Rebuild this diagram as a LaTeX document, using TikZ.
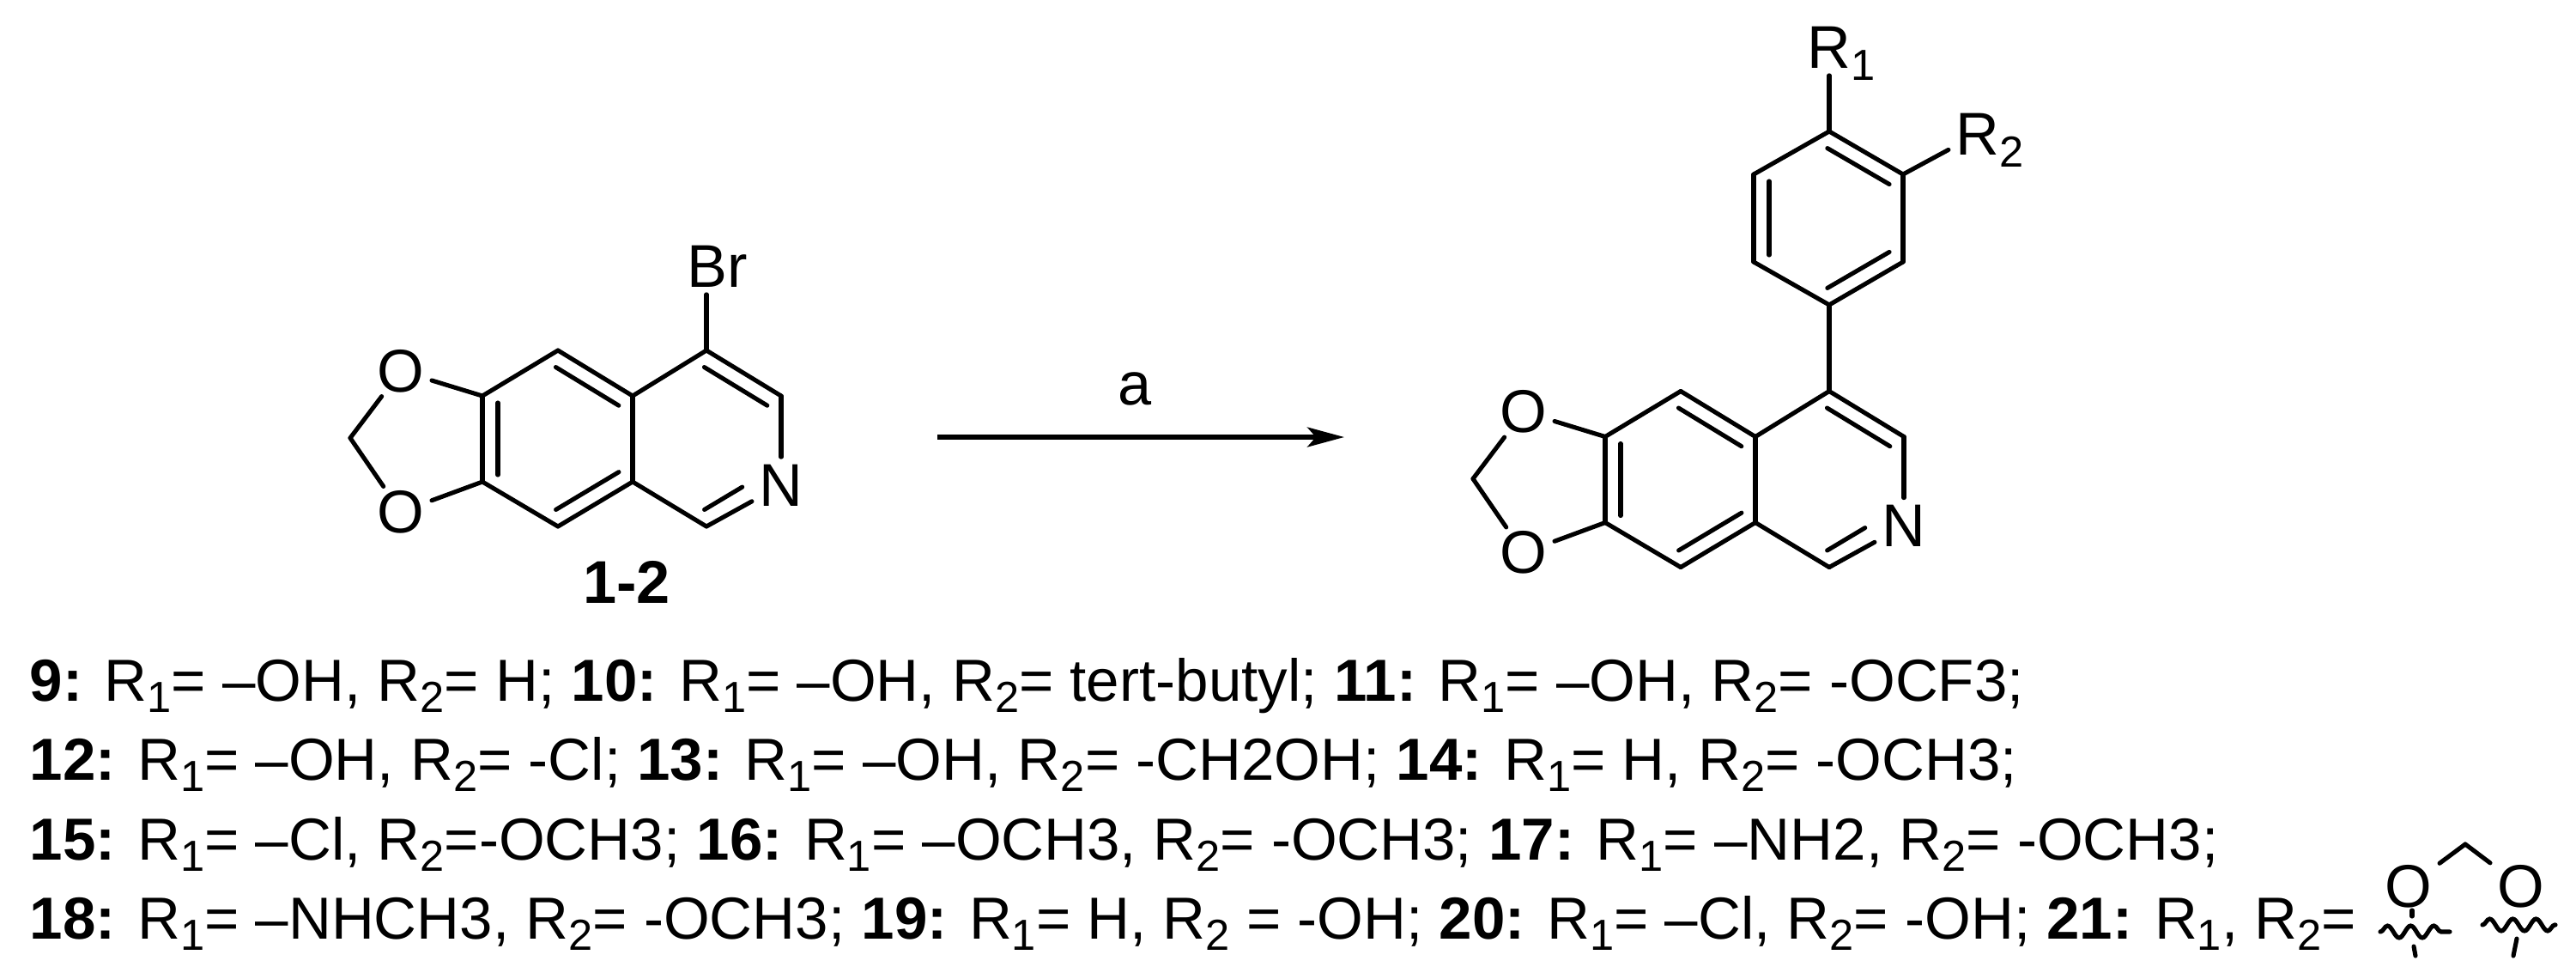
\documentclass[tikz,border=0pt]{standalone}
\usepackage{fontspec}
\setmainfont{Liberation Sans}
\usetikzlibrary{arrows.meta, calc, decorations.pathmorphing}
\newcommand{\rsub}[1]{\raisebox{-0.2em}[0pt][0pt]{\fontsize{14.4}{14.4}\selectfont #1}}
\newcommand{\innerbond}[3][]{\draw[bond, shorten <=0.08cm, shorten >=0.08cm, #1] ($(#2)!0.18cm!90:(#3)$)--($(#3)!0.18cm!-90:(#2)$);}
\tikzset{
	bond/.style={line width=1.45pt, line cap=round},
	atom/.style={inner sep=0.08cm, font=\fontsize{20}{20}\selectfont},
	oxy/.style={atom, inner ysep=0.04cm},
	textline/.style={anchor=base west, inner sep=0pt, font=\fontsize{19.66}{19.66}\selectfont},
	wavy/.style={line width=1.45pt, line cap=round, decorate, decoration={snake, segment length=0.27cm, amplitude=0.07cm}}
}
\begin{document}
\begin{tikzpicture}[x=1cm, y=-1cm]
		\useasboundingbox (0,0) rectangle (30.01,11.39);
		% isoquinoline core, left and right
		\foreach \m/\dx/\dy in {lft/0/0, rgt/13.08/0.475}{
			\begin{scope}[shift={(\dx,\dy)}]
				\coordinate (\m-c1) at (5.62,4.61);
				\coordinate (\m-c2) at (5.62,5.61);
				\coordinate (\m-c3) at (6.50,6.13);
				\coordinate (\m-c4) at (7.37,5.61);
				\coordinate (\m-c5) at (7.37,4.61);
				\coordinate (\m-c6) at (6.50,4.08);
				\coordinate (\m-c7) at (8.23,6.13);
				\coordinate (\m-c8) at (9.10,4.61);
				\coordinate (\m-c9) at (8.23,4.08);
				\coordinate (\m-ch) at (4.08,5.10);
				\coordinate (\m-npos) at (9.10,5.61);
				\node [oxy] (\m-o1) at (4.67,4.32) {O};
				\node [oxy] (\m-o2) at (4.67,5.96) {O};
				\node [atom] (\m-n) at (9.10,5.65) {N};
			\end{scope}
			\foreach \a/\b in {c1/c2, c2/c3, c3/c4, c4/c5, c1/c6, c6/c5, c5/c9, c9/c8, c4/c7}{
				\draw [bond] (\m-\a)--(\m-\b);
			}
			\draw [bond] (\m-c1)--(\m-o1);
			\draw [bond] (\m-c2)--(\m-o2);
			\draw [bond] (\m-ch)--(\m-o1);
			\draw [bond] (\m-ch)--(\m-o2);
			\draw [bond] (\m-c8)--(\m-n);
			\draw [bond] (\m-c7)--(\m-n);
			% inner lines of the double bonds
			\innerbond{\m-c1}{\m-c2}
			\innerbond{\m-c3}{\m-c4}
			\innerbond{\m-c5}{\m-c6}
			\innerbond{\m-c8}{\m-c9}
			\innerbond[shorten >=0.42cm]{\m-c7}{\m-npos}
		}
		% bromide and its label
		\node [atom] (br) at (8.36,3.10) {Br};
		\draw [bond] (lft-c9)--(lft-c9 |- br.south);
		\node [font=\fontsize{20}{20}\selectfont\bfseries, inner sep=0pt] (cpd) at (7.30,6.78) {1-2};
		% aryl ring
		\coordinate (ph1) at (20.43,2.03);
		\coordinate (ph2) at (20.43,3.05);
		\coordinate (ph3) at (21.31,3.55);
		\coordinate (ph4) at (22.17,3.05);
		\coordinate (ph5) at (22.17,2.03);
		\coordinate (ph6) at (21.31,1.53);
		\foreach \a/\b in {ph1/ph2, ph2/ph3, ph3/ph4, ph4/ph5, ph5/ph6, ph6/ph1}{
			\draw [bond] (\a)--(\b);
		}
		\innerbond{ph1}{ph2}
		\innerbond{ph3}{ph4}
		\innerbond{ph5}{ph6}
		\draw [bond] (ph3)--(rgt-c9);
		\node [atom] (r1) at (21.31,0.55) {R\rlap{\rsub{1}}};
		\node [atom] (r2) at (23.04,1.56) {R\rlap{\rsub{2}}};
		\draw [bond] (ph6)--(r1);
		\draw [bond] (ph5)--(r2);
		% reaction arrow
		\coordinate (arrstart) at (10.92,5.09);
		\coordinate (arrend) at (15.66,5.09);
		\draw [line width=1.45pt, -{Stealth[length=0.43cm, width=0.23cm, inset=0.1cm]}] (arrstart)--(arrend);
		\node [atom] (rgnt) at (13.22,4.53) {a};
		% compound list
		\node [textline] (line1) at (0.34,8.16) {\textbf{9:} R\rsub{1}= \textendash OH, R\rsub{2}= H; \textbf{10:} R\rsub{1}= \textendash OH, R\rsub{2}= tert-butyl; \textbf{11:} R\rsub{1}= \textendash OH, R\rsub{2}= -OCF3;};
		\node [textline] (line2) at (0.34,9.08) {\textbf{12:} R\rsub{1}= \textendash OH, R\rsub{2}= -Cl; \textbf{13:} R\rsub{1}= \textendash OH, R\rsub{2}= -CH2OH; \textbf{14:} R\rsub{1}= H, R\rsub{2}= -OCH3;};
		\node [textline] (line3) at (0.34,10.01) {\textbf{15:} R\rsub{1}= \textendash Cl, R\rsub{2}=-OCH3; \textbf{16:} R\rsub{1}= \textendash OCH3, R\rsub{2}= -OCH3; \textbf{17:} R\rsub{1}= \textendash NH2, R\rsub{2}= -OCH3;};
		\node [textline] (line4) at (0.34,10.93) {\textbf{18:} R\rsub{1}= \textendash NHCH3, R\rsub{2}= -OCH3; \textbf{19:} R\rsub{1}= H, R\rsub{2} = -OH; \textbf{20:} R\rsub{1}= \textendash Cl, R\rsub{2}= -OH; \textbf{21:} R\rsub{1}, R\rsub{2}=};
		% methylenedioxy fragment on the last line
		\node [oxy] (fo1) at (28.06,10.32) {O};
		\node [oxy] (fo2) at (29.37,10.32) {O};
		\coordinate (fch) at (28.72,9.83);
		\draw [bond] (fch)--(fo1);
		\draw [bond] (fch)--(fo2);
		\coordinate (fw1a) at (27.73,10.85);
		\coordinate (fw1b) at (28.54,10.85);
		\coordinate (fw2a) at (28.92,10.77);
		\coordinate (fw2b) at (29.77,10.77);
		\draw [wavy] (fw1a)--(fw1b);
		\draw [wavy] (fw2a)--(fw2b);
		\coordinate (fs1) at (28.10,10.60);
		\coordinate (fs2) at (28.10,10.67);
		\coordinate (fs3) at (28.12,11.02);
		\coordinate (fs4) at (28.14,11.13);
		\coordinate (fs5) at (29.32,10.93);
		\coordinate (fs6) at (29.28,11.13);
		\draw [bond] (fs1)--(fs2);
		\draw [bond] (fs3)--(fs4);
		\draw [bond] (fs5)--(fs6);
	\end{tikzpicture}
\end{document}
